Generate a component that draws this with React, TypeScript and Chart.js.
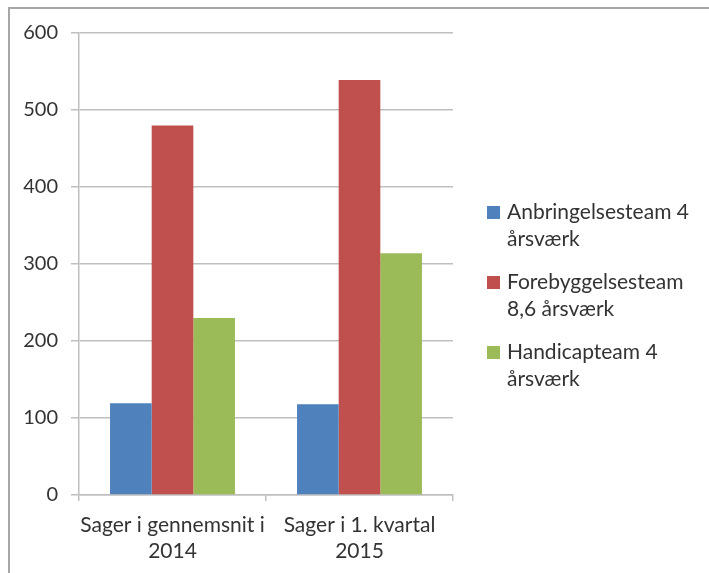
import React, { useEffect, useRef } from "react";
import { Chart, registerables } from "chart.js";

Chart.register(...registerables);

const categories: string[][] = [["Sager i gennemsnit i", "2014"], ["Sager i 1. kvartal", "2015"]];
const seriesNames: string[][] = [
  ["Anbringelsesteam 4", "årsværk"],
  ["Forebyggelsesteam", "8,6 årsværk"],
  ["Handicapteam 4", "årsværk"],
];
const anbringelses: number[] = [119, 118];
const forebyggelses: number[] = [480, 539];
const handicap: number[] = [230, 314];
const seriesColors: string[] = ["#4F81BD", "#C0504D", "#9BBB59"];
const yTicks: number[] = [0, 100, 200, 300, 400, 500, 600];

const FONT = "Lato, 'Open Sans', sans-serif";
const GRID = "#BFBFBF";
const TEXT = "#333333";

const legendPlugin = {
  id: "sideLegend",
  afterDraw(chart: any) {
    const ctx = chart.ctx;
    const x0 = 487;
    const startY = 212;
    const lineH = 27;
    const itemGap = 70;
    ctx.save();
    ctx.font = `21px ${FONT}`;
    ctx.textBaseline = "middle";
    ctx.textAlign = "left";
    chart.data.datasets.forEach((ds: any, i: number) => {
      const y = startY + i * itemGap;
      ctx.fillStyle = ds.backgroundColor;
      ctx.fillRect(x0, y - 6, 13, 13);
      ctx.fillStyle = TEXT;
      const lines: string[] = ds.legendLines;
      lines.forEach((ln, j) => ctx.fillText(ln, x0 + 20, y + j * lineH));
    });
    ctx.restore();
  },
};

export default function App() {
  const ref = useRef<HTMLCanvasElement | null>(null);
  useEffect(() => {
    document.body.style.margin = "0";
    if (!ref.current) return;
    const values = [anbringelses, forebyggelses, handicap];
    const chart = new Chart(ref.current, {
      type: "bar",
      data: {
        labels: categories as any,
        datasets: values.map((v, i) => ({
          label: seriesNames[i].join(" "),
          legendLines: seriesNames[i],
          data: v,
          backgroundColor: seriesColors[i],
          borderWidth: 0,
          barPercentage: 1,
          categoryPercentage: 0.668,
        })) as any,
      },
      options: {
        animation: false,
        responsive: false,
        devicePixelRatio: 1,
        layout: { padding: { left: 0, top: 33, right: 256, bottom: 0 } },
        plugins: { legend: { display: false }, tooltip: { enabled: false }, title: { display: false } },
        scales: {
          x: {
            grid: { display: true, drawOnChartArea: false, drawTicks: true, tickLength: 6, color: GRID, lineWidth: 1.5 },
            border: { display: true, color: GRID, width: 1.5 },
            ticks: { font: { family: FONT, size: 21, lineHeight: 1.2 }, color: TEXT, padding: 12, maxRotation: 0, autoSkip: false },
            afterFit: (s: any) => { s.height = 78; },
          },
          y: {
            min: 0,
            max: 600,
            afterBuildTicks: (s: any) => { s.ticks = yTicks.map((v) => ({ value: v })); },
            grid: { color: GRID, lineWidth: 1.5, tickLength: 8, drawTicks: true },
            border: { display: true, color: GRID, width: 1.5 },
            ticks: { font: { family: FONT, size: 20 }, color: TEXT, padding: 13 },
            afterFit: (s: any) => { s.width = 79; },
          },
        },
      },
      plugins: [legendPlugin],
    });
    return () => chart.destroy();
  }, []);
  return (
    <div style={{ position: "relative", width: 709, height: 573, background: "#fff", overflow: "hidden" }}>
      <canvas ref={ref} width={709} height={573} style={{ position: "absolute", left: 0, top: 0 }} />
      <div style={{ position: "absolute", left: 8, top: 7, right: -10, bottom: -10, borderLeft: "2px solid #A6A6A6", borderTop: "2px solid #A6A6A6", pointerEvents: "none" }} />
    </div>
  );
}
